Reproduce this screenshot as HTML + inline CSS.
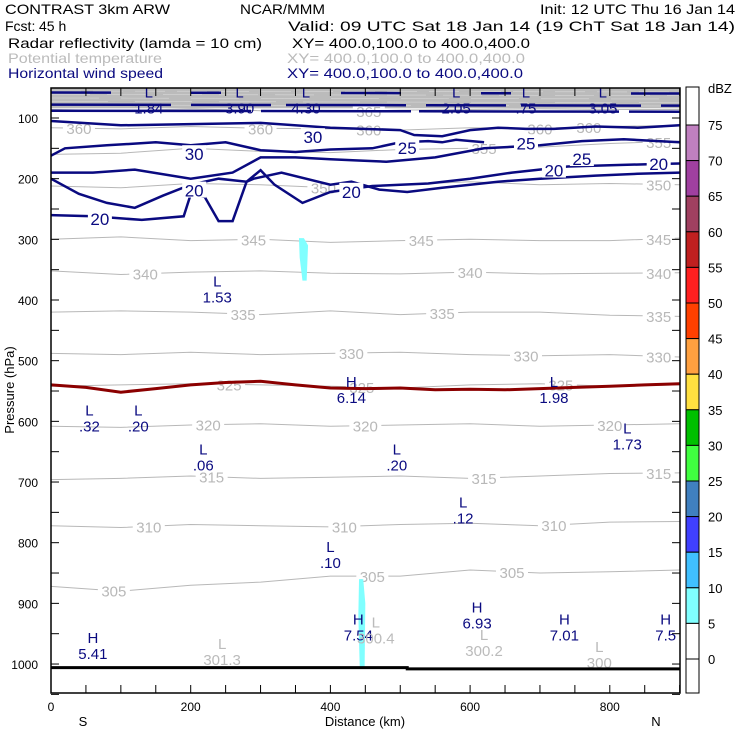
<!DOCTYPE html>
<html><head><meta charset="utf-8">
<style>
body{margin:0;background:#fff;width:740px;height:740px;overflow:hidden}
svg{font-family:"Liberation Sans",sans-serif}
</style></head><body>
<svg id="c" width="740" height="740" xmlns="http://www.w3.org/2000/svg">
<g font-size="14">
<text x="5" y="14" fill="#000" textLength="165" lengthAdjust="spacingAndGlyphs">CONTRAST  3km ARW</text>
<text x="240" y="14" fill="#000" textLength="85" lengthAdjust="spacingAndGlyphs">NCAR/MMM</text>
<text x="540" y="14" fill="#000" textLength="195" lengthAdjust="spacingAndGlyphs">Init: 12 UTC Thu 16 Jan 14</text>
<text x="5" y="31" fill="#000">Fcst:</text>
<text x="39" y="31" fill="#000">45 h</text>
<text x="288" y="31" fill="#000" textLength="447" lengthAdjust="spacingAndGlyphs">Valid: 09 UTC Sat 18 Jan 14 (19 ChT Sat 18 Jan 14)</text>
<text x="8" y="48" fill="#000" textLength="254" lengthAdjust="spacingAndGlyphs">Radar reflectivity (lamda = 10 cm)</text>
<text x="292" y="48" fill="#000" textLength="238" lengthAdjust="spacingAndGlyphs">XY= 400.0,100.0 to 400.0,400.0</text>
<text x="8" y="63" fill="#bbb" textLength="154" lengthAdjust="spacingAndGlyphs">Potential temperature</text>
<text x="287" y="63" fill="#bbb" textLength="238" lengthAdjust="spacingAndGlyphs">XY= 400.0,100.0 to 400.0,400.0</text>
<text x="8" y="78" fill="#0a0a80" textLength="155" lengthAdjust="spacingAndGlyphs">Horizontal wind speed</text>
<text x="287" y="78" fill="#0a0a80" textLength="236" lengthAdjust="spacingAndGlyphs">XY= 400.0,100.0 to 400.0,400.0</text>
</g>
<g id="plot"></g>
</svg>
<script>
const xTicksKm=[0,200,400,600,800];
const yTicksHpa=[100,200,300,400,500,600,700,800,900,1000];
const xKm=[0,100,200,300,400,500,600,700,800,900];
const thetaLevels=[365,360,355,350,345,340,335,330,325,320,315,310,305];
const thetaP=[
[86,88,85,88,90,87,86,85,86,86],
[116,118,114,117,118,120,116,117,114,112],
[160,158,150,155,157,152,150,148,142,138],
[212,215,208,210,215,210,205,210,208,210],
[300,296,302,300,305,302,300,302,302,298],
[352,358,354,352,356,357,354,357,356,355],
[420,418,420,424,418,424,420,420,425,427],
[488,490,486,490,488,486,490,492,490,494],
[542,540,538,540,542,545,540,538,542,540],
[608,610,606,604,608,606,604,608,606,604],
[696,694,690,694,692,690,694,690,686,685],
[772,775,770,772,774,770,768,772,766,765],
[872,880,870,865,855,855,845,850,848,845]];
const thetaLabelKm=[[455],[40,300,455,700,770],[620,870],[390,870],[290,530,870],[135,600,870],[275,560,870],[430,680,870],[255,445,730],[225,450,800],[230,620,870],[140,420,720],[90,460,660]];
const freezeKm=[0,50,100,150,200,250,300,350,400,450,500,550,600,650,700,750,800,850,900];
const freezeP=[540,544,552,546,540,536,534,540,545,546,545,548,547,548,546,544,542,540,538];
const windLines=[
{lab:30,km:[0,100,200,300,400,500,520,560,600,640,680,720,780,840,900],p:[105,112,110,108,116,120,128,130,120,116,118,118,114,116,112]},
{lab:30,km:[0,20,80,150,200,250,300,350,400,460,500,540,560,580,620],p:[162,150,145,140,145,140,153,156,152,150,140,138,140,136,140]},
{lab:25,km:[0,60,120,200,260,300,350,400,440,480,550,620,700,760,820,900],p:[190,190,185,200,190,165,165,168,170,172,165,150,145,138,135,140]},
{lab:20,km:[0,40,80,120,160,200,240,280,300,320,360,400,460,540,600,660,740,800,860,900],p:[200,225,240,248,228,210,200,205,186,210,240,222,212,208,200,190,180,178,176,175]},
{lab:20,km:[0,60,130,190,200,220,240,260,280,290,330,400,430,470,510,560,640,700,780,840,900],p:[260,262,268,262,226,230,270,270,205,200,190,210,205,218,222,215,205,200,195,192,190]}];
const windLabels=[[375,130,"30"],[205,158,"30"],[680,140,"25"],[760,166,"25"],[510,148,"25"],[70,265,"20"],[205,218,"20"],[430,220,"20"],[720,185,"20"],[870,174,"20"]];
const extrema=[[140,66,"L","1.84"],[270,66,"L","3.90"],[365,66,"L","4.30"],[580,66,"L","2.05"],[680,66,"L",".75"],[790,66,"L","3.05"],[238,378,"L","1.53"],[430,543,"H","6.14"],[720,543,"L","1.98"],[55,590,"L",".32"],[125,590,"L",".20"],[825,620,"L","1.73"],[218,655,"L",".06"],[495,655,"L",".20"],[590,742,"L",".12"],[400,815,"L",".10"],[60,965,"H","5.41"],[440,935,"H","7.54"],[610,915,"H","6.93"],[735,935,"H","7.01"],[880,935,"H","7.5"]];
const grayExt=[[245,975,"301.3"],[465,940,"300.4"],[620,960,"300.2"],[785,980,"300"]];
const dbzLevels=[75,70,65,60,55,50,45,40,35,30,25,20,15,10,5,0];
const dbzColors=["#c080c0","#a040a0","#a04060","#c02020","#ff2020","#ff4000","#ffa040","#ffe040","#00c000","#40ff40","#4080c0","#4040ff","#40c0ff","#80ffff","#fff"];
const echoes=[{km:[355,362,368,366,360,356],p:[298,298,310,368,368,330]},{km:[441,447,450,449,442,440],p:[860,860,900,1005,1005,920]}];

const X0=51,X1=680,Y0=88,Y1=693;
const xs=k=>X0+k*0.6985;
const ys=p=>118+(p-100)*0.6067;
const NS="http://www.w3.org/2000/svg";
const g=document.getElementById('plot');
function el(t,a,par){const e=document.createElementNS(NS,t);for(const k in a)e.setAttribute(k,a[k]);(par||g).appendChild(e);return e;}
function txt(x,y,s,a){const e=el('text',Object.assign({x:x,y:y},a||{}));e.textContent=s;return e;}
const clip=el('clipPath',{id:'cp'});el('rect',{x:X0,y:Y0,width:X1-X0,height:Y1-Y0},clip);
const inner=el('g',{'clip-path':'url(#cp)'});
const band=el('rect',{x:X0,y:Y0,width:X1-X0,height:ys(84)-Y0,fill:'#bbb'},inner);

for(let i=0;i<5;i++){const l=el('line',{x1:X0,x2:X1,y1:Y0+3+i*3.5,y2:Y0+4+i*3.5,stroke:'#d8d8d8','stroke-width':0.6,'stroke-dasharray':(30+i*9)+' '+(12+i*5)},inner);
}
thetaLevels.forEach((lev,i)=>{
 const pts=xKm.map((k,j)=>xs(k).toFixed(1)+','+ys(thetaP[i][j]).toFixed(1)).join(' ');
 const pl=el('polyline',{points:pts,fill:'none',stroke:'#b8b8b8','stroke-width':1},inner);
 
 thetaLabelKm[i].forEach(k=>{
  const j=Math.min(8,Math.floor(k/100));const f=(k-xKm[j])/100;
  const p=thetaP[i][j]*(1-f)+thetaP[i][j+1]*f;
  const bg=el('rect',{x:xs(k)-16,y:ys(p)-6,width:32,height:12,fill:'#fff'},inner);
  
  const t=txt(xs(k),ys(p)+6,String(lev),{fill:'#b8b8b8','font-size':15,'text-anchor':'middle'});inner.appendChild(t);
  
 });
});
echoes.forEach((e,i)=>{
 const pg=el('polygon',{points:e.km.map((k,j)=>xs(k)+','+ys(e.p[j])).join(' '),fill:'#80ffff'},inner);
 
});
[[58,'60 80 30 120'],[78,'120 20 80 15'],[88,'200 10 150 8']].forEach((pp,i)=>{
 const l=el('line',{x1:X0,x2:X1,y1:ys(pp[0]),y2:ys(pp[0])+1,stroke:'#0a0a80','stroke-width':2.5,'stroke-dasharray':pp[1]},inner);
 
});
windLines.forEach((w,i)=>{
 const pl=el('polyline',{points:w.km.map((k,j)=>xs(k).toFixed(1)+','+ys(w.p[j]).toFixed(1)).join(' '),fill:'none',stroke:'#0a0a80','stroke-width':2.5},inner);
 
});
windLabels.forEach(w=>{
 const bg=el('rect',{x:xs(w[0])-12,y:ys(w[1])-8,width:24,height:16,fill:'#fff'},inner);
 
 const t=txt(xs(w[0]),ys(w[1])+7,w[2],{fill:'#0a0a80','font-size':17,'text-anchor':'middle'});inner.appendChild(t);
 
});
const fz=el('polyline',{points:freezeKm.map((k,j)=>xs(k).toFixed(1)+','+ys(freezeP[j]).toFixed(1)).join(' '),fill:'none',stroke:'#8b0000','stroke-width':3},inner);

extrema.forEach(e=>{
 const t1=txt(xs(e[0]),ys(e[1]),e[2],{fill:'#0a0a80','font-size':15,'text-anchor':'middle'});inner.appendChild(t1);
 
 const t2=txt(xs(e[0]),ys(e[1])+16,e[3],{fill:'#0a0a80','font-size':15,'text-anchor':'middle'});inner.appendChild(t2);
 
});
grayExt.forEach(e=>{
 const t1=txt(xs(e[0]),ys(e[1]),'L',{fill:'#bbb','font-size':15,'text-anchor':'middle'});inner.appendChild(t1);
 
 const t2=txt(xs(e[0]),ys(e[1])+16,e[2],{fill:'#bbb','font-size':15,'text-anchor':'middle'});inner.appendChild(t2);
 
});
const gr=el('polyline',{points:`${X0},${ys(1006)} ${xs(510)},${ys(1006)} ${xs(510)},${ys(1008)} ${X1},${ys(1008)}`,fill:'none',stroke:'#000','stroke-width':3});

const fr=el('rect',{x:X0,y:Y0,width:X1-X0,height:Y1-Y0,fill:'none',stroke:'#000','stroke-width':1.5});

for(let k=0;k<=900;k+=50){
 const l=el('line',{x1:xs(k),x2:xs(k),y1:Y1,y2:Y1-8,stroke:'#000'});
 const l2=el('line',{x1:xs(k),x2:xs(k),y1:Y0,y2:Y0+8,stroke:'#000'});
}
xTicksKm.forEach(k=>{const t=txt(xs(k),711,String(k),{'font-size':12,'text-anchor':'middle'});});
for(let p=100;p<=1050;p+=50){
 const l=el('line',{x1:X0,x2:X0+8,y1:ys(p),y2:ys(p),stroke:'#000'});
 const l2=el('line',{x1:X1,x2:X1-8,y1:ys(p),y2:ys(p),stroke:'#000'});
}
yTicksHpa.forEach(p=>{const t=txt(38,ys(p)+5,String(p),{'font-size':12,'text-anchor':'end'});});
let t;
t=txt(X0+32,726,'S',{'font-size':13,'text-anchor':'middle'});
t=txt(656,726,'N',{'font-size':13,'text-anchor':'middle'});
t=txt(365,726,'Distance (km)',{'font-size':13,'text-anchor':'middle'});
t=txt(0,0,'Pressure (hPa)',{'font-size':13,'text-anchor':'middle',transform:'translate(14,390) rotate(-90)'});
const CB0=686,CBW=13,ct=87,cb=693,step=35.6,y75=125;
const cbg=el('rect',{x:CB0,y:ct,width:CBW,height:cb-ct,fill:'#fff',stroke:'#000'});
dbzColors.forEach((c,i)=>{const r=el('rect',{x:CB0,y:y75+i*step,width:CBW,height:step,fill:c,stroke:'#000','stroke-width':1});});
dbzLevels.forEach((v,i)=>{const tt=txt(708,y75+i*step+5,String(v),{'font-size':13});});
t=txt(708,93,'dBZ',{'font-size':13});
</script>
</body></html>
